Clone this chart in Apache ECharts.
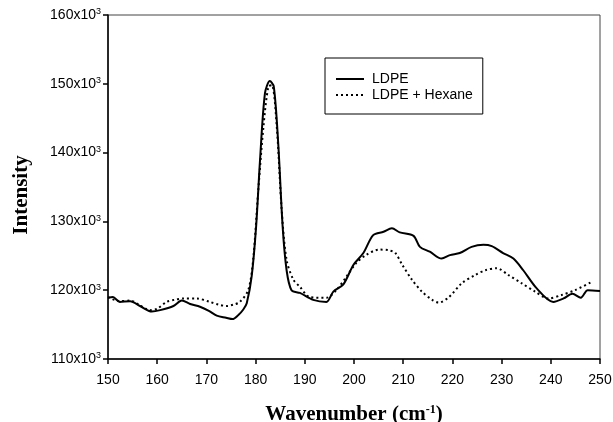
<!DOCTYPE html>
<html><head><meta charset="utf-8">
<script src="https://cdn.jsdelivr.net/npm/echarts@6/dist/echarts.min.js"></script>
<style>html,body{margin:0;padding:0;background:#fff}#c{width:613px;height:422px}</style>
</head><body><div id="c"></div>
<script>
// Wavenumber (cm^-1) and intensity (x10^3)
const ldpeX = [150,151,152.4,154.5,156.5,158.9,160.6,163.3,165,166.7,168.7,170.5,172.1,174,175.3,176.5,177.5,178.2,179.2,180.1,180.9,181.9,182.9,183.7,184.6,185.5,186.3,187.3,189,191.7,194.4,195.8,197.8,199.9,201.9,203.9,206,207.7,209.3,212.1,213.4,215.4,217.8,219.5,221.5,223.9,226.3,228,230.3,232.4,234.4,237.1,240.5,242.6,244.4,246.1,247.5,250];
const ldpeY = [118.9,119.0,118.3,118.4,117.7,116.9,117.1,117.7,118.5,118.0,117.6,117.0,116.3,116.0,115.8,116.4,117.2,118.1,122.0,129.2,138.9,148.6,150.4,149.6,141.3,129.2,122.9,120.0,119.6,118.6,118.3,119.8,120.8,123.7,125.4,128.0,128.5,129.0,128.4,127.9,126.3,125.6,124.6,125.1,125.4,126.3,126.6,126.4,125.4,124.6,122.9,120.3,118.3,118.8,119.5,118.9,120.0,119.9];
const hexX = [150,152.4,154.5,156.5,158.5,160,161.9,163.5,165.3,168,170.7,172.5,174.1,175.5,176.8,178.5,179.5,180.5,181.6,182.6,183.3,184.3,185.3,186.3,187.7,189,191,194.4,196.4,198.4,200.4,202.4,205.1,207.1,208.4,209.8,211.8,213.8,215.9,217.2,219.3,221.9,224.6,226.7,229,231.4,234.1,236.8,239.5,242.2,244.9,248.3];
const hexY = [119.0,118.4,118.5,117.8,117.1,117.3,118.3,118.6,118.8,118.8,118.3,117.9,117.7,117.9,118.3,120.0,124.4,134.1,143.8,149.6,149.8,143.8,131.7,124.4,121.5,120.5,119.0,118.9,120.0,121.9,123.9,125.1,125.9,125.8,125.4,123.7,121.5,119.8,118.6,118.2,119.0,121.0,122.2,122.9,123.2,122.2,121.0,119.8,118.8,119.3,120.0,121.2];
const seriesNames = ['LDPE', 'LDPE + Hexane'];
const xTicks = [150,160,170,180,190,200,210,220,230,240,250];
const yTicks = [110,120,130,140,150,160];

const zip = (a, b) => a.map((v, i) => [v, b[i]]);
const SANS = 'Liberation Sans, Arial, sans-serif';
const SERIF = 'Liberation Serif, Times New Roman, serif';
const chart = echarts.init(document.getElementById('c'));
chart.setOption({
  animation: false,
  backgroundColor: '#fff',
  grid: {left: 108, right: 13, top: 15, bottom: 63, show: true, borderColor: '#444', borderWidth: 1,
    containLabel: false, outerBoundsMode: 'none'},
  legend: {
    orient: 'vertical', left: 325, top: 58,
    data: seriesNames,
    borderColor: '#000', borderWidth: 1, borderRadius: 0,
    padding: [14, 10, 12, 10], itemGap: 2, itemWidth: 28, itemHeight: 14,
    itemStyle: {opacity: 0},
    textStyle: {fontFamily: SANS, fontSize: 14, color: '#000', padding: [0, 0, 0, 3]}
  },
  xAxis: {
    type: 'value', min: 150, max: 250, interval: 10,
    name: 'Wavenumber (cm{s|-1})', nameLocation: 'middle', nameGap: 45,
    nameTextStyle: {fontFamily: SERIF, fontWeight: 'bold', fontSize: 21, color: '#000',
      rich: {s: {fontFamily: SERIF, fontWeight: 'bold', fontSize: 12, verticalAlign: 'top', padding: [0,0,9,0], color: '#000'}}},
    axisLine: {show: true, lineStyle: {color: '#000', width: 1.5}},
    axisTick: {show: true, length: 5, lineStyle: {color: '#000', width: 1.5}},
    axisLabel: {fontFamily: SANS, fontSize: 14, color: '#000', margin: 14,
      formatter: v => xTicks.includes(v) ? String(v) : ''},
    splitLine: {show: false}
  },
  yAxis: {
    type: 'value', min: 110, max: 160, interval: 10,
    name: 'Intensity', nameLocation: 'middle', nameGap: 76, nameRotate: 90,
    nameTextStyle: {fontFamily: SERIF, fontWeight: 'bold', fontSize: 21, color: '#000', padding: [0, 16, 0, 0]},
    axisLine: {show: true, lineStyle: {color: '#000', width: 1.5}},
    axisTick: {show: true, length: 5, lineStyle: {color: '#000', width: 1.5}},
    axisLabel: {fontFamily: SANS, fontSize: 14, color: '#000', margin: 7,
      formatter: v => yTicks.includes(v) ? v + 'x10{s|3}' : '',
      rich: {s: {fontFamily: SANS, fontSize: 9, verticalAlign: 'top', padding: [0,0,6,0], color: '#000'}}},
    splitLine: {show: false}
  },
  series: [
    {name: seriesNames[0], type: 'line', data: zip(ldpeX, ldpeY), symbol: 'none', smooth: 0.3,
      lineStyle: {color: '#000', width: 2}, itemStyle: {color: '#000'}, z: 3},
    {name: seriesNames[1], type: 'line', data: zip(hexX, hexY), symbol: 'none', smooth: 0.3,
      lineStyle: {color: '#000', width: 2, type: [2, 3]}, itemStyle: {color: '#000'}, z: 2}
  ]
});
</script></body></html>
